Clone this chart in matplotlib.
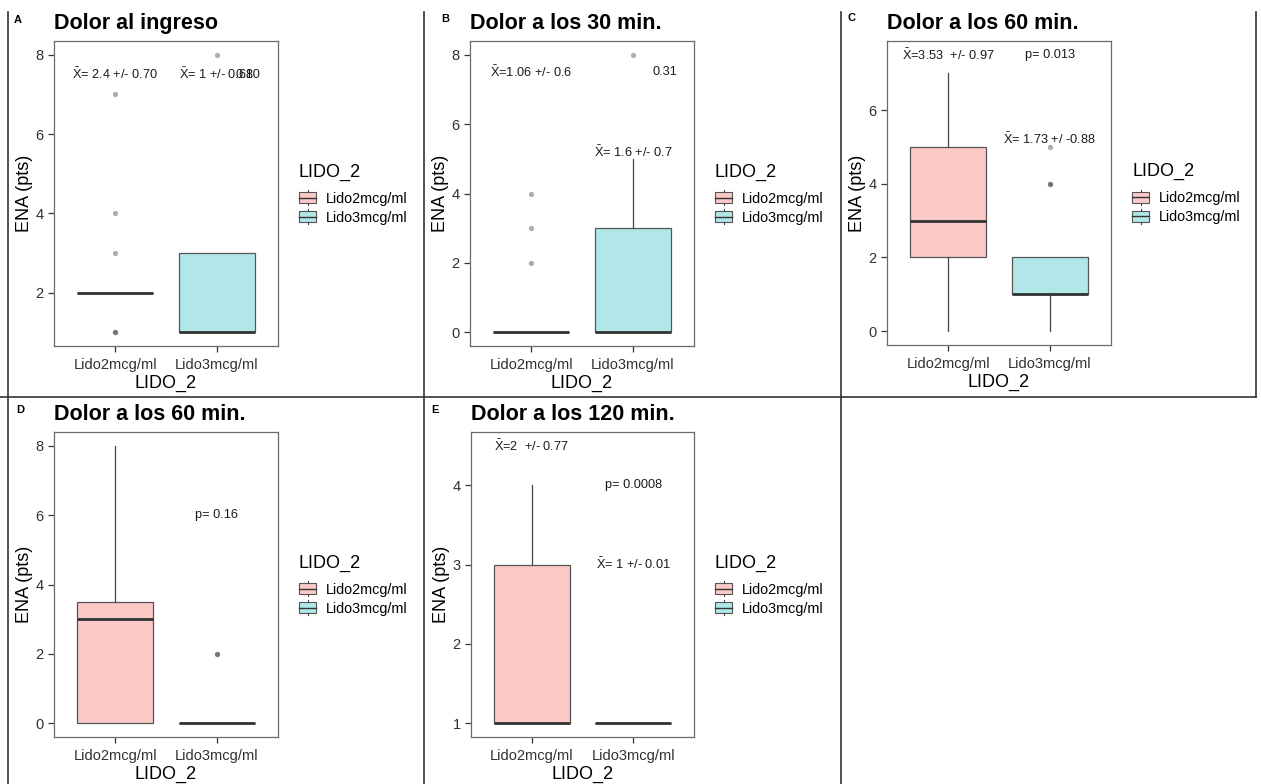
import matplotlib
matplotlib.use('Agg')
import matplotlib.pyplot as plt
from matplotlib.patches import Rectangle, Patch
from matplotlib.lines import Line2D
from matplotlib.legend_handler import HandlerBase
from matplotlib.ticker import MultipleLocator

plt.rcParams['font.family'] = ['Liberation Sans', 'DejaVu Sans']
plt.rcParams['mathtext.fontset'] = 'custom'
plt.rcParams['mathtext.rm'] = 'Liberation Sans'
plt.rcParams['mathtext.it'] = 'Liberation Sans'
plt.rcParams['mathtext.bf'] = 'Liberation Sans:bold'

# ---------------- data ----------------
groups = ['Lido2mcg/ml', 'Lido3mcg/ml']
fills = ['#FBC9C6', '#B1E7E8']
legend_title = 'LIDO_2'
x_label = 'LIDO_2'
y_label = 'ENA (pts)'

panel_letters = ['A', 'B', 'C', 'D', 'E']
panel_titles = ['Dolor al ingreso', 'Dolor a los 30 min.', 'Dolor a los 60 min.',
                'Dolor a los 60 min.', 'Dolor a los 120 min.']

# box statistics per panel: [Lido2mcg/ml, Lido3mcg/ml]
q1_vals = [[2, 1], [0, 0], [2, 1], [0, 0], [1, 1]]
med_vals = [[2, 1], [0, 0], [3, 1], [3, 0], [1, 1]]
q3_vals = [[2, 3], [0, 3], [5, 2], [3.5, 0], [3, 1]]
whislo_vals = [[2, 1], [0, 0], [0, 0], [0, 0], [1, 1]]
whishi_vals = [[2, 3], [0, 5], [7, 2], [8, 0], [4, 1]]
flier_vals = [[[1, 1, 3, 4, 7], [8]],
              [[2, 3, 4], [8]],
              [[], [4, 4, 5]],
              [[], [2, 2]],
              [[], []]]

XB = r'$\bar{X}$'
ann_x = [[1, 2, 2.3], [1, 2.31, 2], [1, 2, 2], [2], [1, 2, 2]]
ann_y = [[7.5, 7.5, 7.5], [7.5, 7.5, 5.2], [7.5, 7.5, 5.2], [6], [4.5, 4, 3]]
ann_text = [[XB + '= 2.4 +/- 0.70', XB + '= 1 +/- 0.68', '0.10'],
            [XB + '=1.06 +/- 0.6', '0.31', XB + '= 1.6 +/- 0.7'],
            [XB + '=3.53  +/- 0.97', 'p= 0.013', XB + '= 1.73 +/ -0.88'],
            ['p= 0.16'],
            [XB + '=2  +/- 0.77', 'p= 0.0008', XB + '= 1 +/- 0.01']]
y_steps = [2, 2, 2, 2, 1]

# ---------------- layout (pixels) ----------------
W, H = 1261, 784
axes_px = [(54, 41, 278, 346), (470, 41, 694, 346), (887, 41, 1111, 345),
           (54, 432, 278, 737), (471, 432, 694, 737)]
letter_px = [(18, 20), (445, 19), (852, 18), (20, 410), (435, 410)]


class BoxKey(HandlerBase):
    def create_artists(self, legend, orig, xd, yd, w, h, fs, trans):
        x0, y0 = -xd, -yd
        fc = orig.get_facecolor()
        bh = h * 0.72
        by = y0 + (h - bh) / 2
        r = Rectangle((x0, by), w, bh, facecolor=fc, edgecolor='#555555', lw=0.8, transform=trans)
        m = Line2D([x0, x0 + w], [y0 + h / 2] * 2, color='#333333', lw=1.0, transform=trans)
        wt = Line2D([x0 + w / 2] * 2, [by + bh, y0 + h], color='#444444', lw=0.8, transform=trans)
        wb = Line2D([x0 + w / 2] * 2, [y0, by], color='#444444', lw=0.8, transform=trans)
        return [r, m, wt, wb]


fig = plt.figure(figsize=(W / 100, H / 100), dpi=100)

for i in range(5):
    l, t, r, b = axes_px[i]
    ax = fig.add_axes([l / W, 1 - b / H, (r - l) / W, (b - t) / H])
    stats = []
    for g in range(2):
        stats.append(dict(q1=q1_vals[i][g], med=med_vals[i][g], q3=q3_vals[i][g],
                          whislo=whislo_vals[i][g], whishi=whishi_vals[i][g],
                          fliers=flier_vals[i][g], label=groups[g]))
    bp = ax.bxp(stats, positions=[1, 2], widths=0.75, patch_artist=True,
                showcaps=False, showfliers=True,
                boxprops=dict(edgecolor='#555555', linewidth=0.9),
                medianprops=dict(color='#333333', linewidth=2.0),
                whiskerprops=dict(color='#444444', linewidth=0.9),
                flierprops=dict(marker='o', markersize=3.8, markerfacecolor='black',
                                markeredgecolor='none', alpha=0.32))
    for patch, fc in zip(bp['boxes'], fills):
        patch.set_facecolor(fc)
    for xx, yy, tt in zip(ann_x[i], ann_y[i], ann_text[i]):
        ax.text(xx, yy, tt, ha='center', va='center', fontsize=9.2, color='#1a1a1a')

    allv = []
    for g in range(2):
        allv += [whislo_vals[i][g], whishi_vals[i][g]] + flier_vals[i][g]
    allv += ann_y[i]
    lo, hi = min(allv), max(allv)
    pad = 0.05 * (hi - lo)
    ax.set_ylim(lo - pad, hi + pad)
    ax.set_xlim(0.4, 2.6)
    ax.yaxis.set_major_locator(MultipleLocator(y_steps[i]))
    ax.set_xticks([1, 2])
    ax.set_xticklabels(groups)
    ax.tick_params(axis='both', length=4.5, width=0.9, color='#333333',
                   labelsize=10.5, labelcolor='#303030')
    ax.tick_params(axis='x', pad=4)
    ax.tick_params(axis='y', pad=3)
    for sp in ax.spines.values():
        sp.set_color('#6a6a6a')
        sp.set_linewidth(0.9)
    ax.set_xlabel(x_label, fontsize=13, labelpad=2, color='black')
    ax.set_ylabel(y_label, fontsize=13, labelpad=2, color='black')
    ax.set_title(panel_titles[i], loc='left', fontsize=15.5, fontweight='bold', pad=8.5)

    handles = [Patch(facecolor=fills[g], label=groups[g]) for g in range(2)]
    leg = ax.legend(handles=handles, title=legend_title, loc='upper left',
                    bbox_to_anchor=(1 + 21 / (r - l), 0.605 - 2 / (b - t)), frameon=False,
                    borderpad=0, borderaxespad=0, fontsize=10.4, title_fontsize=13,
                    handlelength=1.2, handleheight=1.2, handletextpad=0.65,
                    labelspacing=0.25, alignment='left',
                    handler_map={Patch: BoxKey()})
    leg._legend_box.sep = 7

    lx, ly = letter_px[i]
    fig.text(lx / W, 1 - ly / H, panel_letters[i], fontsize=8, fontweight='bold',
             ha='center', va='center')

# separator frame lines
sep_lines = [((0, 397), (1256, 397)), ((8, 12), (8, 784)), ((424, 12), (424, 784)),
             ((841, 12), (841, 784)), ((1256, 12), (1256, 397))]
for (x0, y0), (x1, y1) in sep_lines:
    fig.add_artist(Line2D([x0 / W, x1 / W], [1 - y0 / H, 1 - y1 / H],
                          transform=fig.transFigure, color='#333333', lw=1.2))

fig.savefig('out.png', dpi=100)
